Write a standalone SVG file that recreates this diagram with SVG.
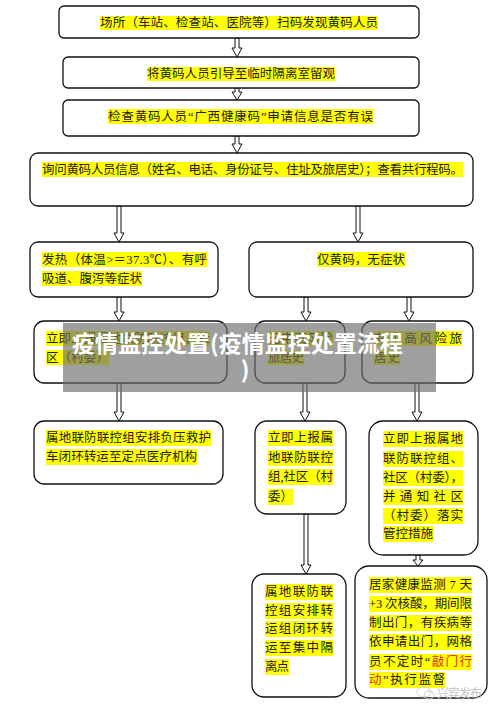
<svg xmlns="http://www.w3.org/2000/svg" width="500" height="715" viewBox="0 0 500 715">
<style>
.box{fill:#fff;stroke:#111;stroke-width:1.3}
.hl{fill:#ffff00}
.t{font-family:"Liberation Serif","Noto Sans CJK SC",serif;font-size:12.5px;fill:#222;dominant-baseline:central}
.red{fill:#e0301a}
.arr{fill:#fff;stroke:#111;stroke-width:1}
.ban{fill:#6e6e6e;opacity:0.66}
.bt{font-family:"Noto Sans CJK SC","Noto Sans",sans-serif;font-weight:bold;font-size:23px;fill:#fff;dominant-baseline:central}
.wm{font-family:"Noto Sans CJK SC",sans-serif;font-size:12px;fill:#c4c4c4;dominant-baseline:central}
</style>
<rect width="500" height="715" fill="#fff"/>

<g id="connectors">
<path class="arr" d="M235 38V48H232L237 57L242 48H239V38Z"/>
<path class="arr" d="M235 88V92H232L237 100L242 92H239V88Z"/>
<path class="arr" d="M235 136V144H232L237 153L242 144H239V136Z"/>
<path class="arr" d="M117 206V233H114L119 242L124 233H121V206Z"/>
<path class="arr" d="M356 206V233H353L358 242L363 233H360V206Z"/>
<path class="arr" d="M117 297V312H114L119 321L124 312H121V297Z"/>
<path class="arr" d="M304 297V312H301L306 321L311 312H308V297Z"/>
<path class="arr" d="M407 297V312H404L409 321L414 312H411V297Z"/>
<path class="arr" d="M117 383V412H114L119 421L124 412H121V383Z"/>
<path class="arr" d="M303 383V412H300L305 421L310 412H307V383Z"/>
<path class="arr" d="M415 383V412H412L417 421L422 412H419V383Z"/>
<path class="arr" d="M304 514V565H301L306 574L311 565H308V514Z"/>
<path class="arr" d="M416 555V560H413L418 566L423 560H420V555Z"/>
</g>

<g id="n1">
<rect class="box" x="59" y="6" width="360" height="32" rx="5"/>
<rect class="hl" x="100" y="16" width="278" height="14"/>
<text class="t" x="100" y="23" textLength="278" lengthAdjust="spacing">场所（车站、检查站、医院等）扫码发现黄码人员</text>
</g>

<g id="n2">
<rect class="box" x="63" y="57" width="356" height="31" rx="5"/>
<rect class="hl" x="147" y="67" width="188" height="14"/>
<text class="t" x="147" y="74" textLength="188" lengthAdjust="spacing">将黄码人员引导至临时隔离室留观</text>
</g>

<g id="n3">
<rect class="box" x="63" y="100" width="356" height="36" rx="5"/>
<rect class="hl" x="108" y="109" width="265" height="15"/>
<text class="t" x="108" y="116.5" textLength="265" lengthAdjust="spacing">检查黄码人员“广西健康码”申请信息是否有误</text>
</g>

<g id="n4">
<rect class="box" x="30" y="153" width="443" height="53" rx="8"/>
<rect class="hl" x="42" y="162" width="421" height="15"/>
<text class="t" x="42" y="169.5" textLength="421" lengthAdjust="spacing">询问黄码人员信息（姓名、电话、身份证号、住址及旅居史）；查看共行程码。</text>
</g>

<g id="n5l">
<rect class="box" x="30" y="242" width="188" height="55" rx="8"/>
<rect class="hl" x="42" y="252" width="165" height="15"/>
<rect class="hl" x="42" y="271" width="100" height="15"/>
<text class="t" x="42" y="259.5" textLength="165" lengthAdjust="spacing">发热（体温&gt;＝37.3℃）、有呼</text>
<text class="t" x="42" y="278.5" textLength="100" lengthAdjust="spacing">吸道、腹泻等症状</text>
</g>

<g id="n5r">
<rect class="box" x="249" y="242" width="224" height="55" rx="8"/>
<rect class="hl" x="317" y="252" width="88" height="15"/>
<text class="t" x="317" y="259.5" textLength="88" lengthAdjust="spacing">仅黄码，无症状</text>
</g>

<g id="n6l">
<rect class="box" x="34" y="321" width="193" height="62" rx="10"/>
<rect class="hl" x="46" y="331" width="164" height="15"/>
<rect class="hl" x="46" y="350" width="63" height="15"/>
<text class="t" x="46" y="338.5" textLength="164" lengthAdjust="spacing">立即上报属地联防联控组，社</text>
<text class="t" x="46" y="357.5" textLength="63" lengthAdjust="spacing">区（村委）</text>
</g>

<g id="n6m">
<rect class="box" x="255" y="321" width="90" height="62" rx="10"/>
<rect class="hl" x="268" y="331" width="65" height="15"/>
<rect class="hl" x="268" y="350" width="36" height="15"/>
<text class="t" x="268" y="338.5" textLength="65" lengthAdjust="spacing">无中高风险</text>
<text class="t" x="268" y="357.5" textLength="36" lengthAdjust="spacing">旅居史</text>
</g>

<g id="n6r">
<rect class="box" x="362" y="321" width="111" height="62" rx="10"/>
<rect class="hl" x="374" y="331" width="88" height="15"/>
<rect class="hl" x="374" y="350" width="26" height="15"/>
<text class="t" x="374" y="338.5" textLength="88" lengthAdjust="spacing">有中高风险旅</text>
<text class="t" x="374" y="357.5" textLength="26" lengthAdjust="spacing">居史</text>
</g>

<g id="n7l">
<rect class="box" x="34" y="421" width="189" height="63" rx="10"/>
<rect class="hl" x="46" y="430" width="165" height="16"/>
<rect class="hl" x="46" y="449" width="151" height="16"/>
<text class="t" x="46" y="438" textLength="165" lengthAdjust="spacing">属地联防联控组安排负压救护</text>
<text class="t" x="46" y="457" textLength="151" lengthAdjust="spacing">车闭环转运至定点医疗机构</text>
</g>

<g id="n7m">
<rect class="box" x="255" y="421" width="91" height="93" rx="12"/>
<rect class="hl" x="268" y="430" width="65" height="16"/>
<rect class="hl" x="268" y="450" width="65" height="16"/>
<rect class="hl" x="268" y="469" width="65" height="16"/>
<rect class="hl" x="268" y="489" width="25" height="16"/>
<text class="t" x="268" y="438" textLength="65" lengthAdjust="spacing">立即上报属</text>
<text class="t" x="268" y="458" textLength="65" lengthAdjust="spacing">地联防联控</text>
<text class="t" x="268" y="477" textLength="65" lengthAdjust="spacing">组,社区（村</text>
<text class="t" x="268" y="497" textLength="25" lengthAdjust="spacing">委）</text>
</g>

<g id="n7r">
<rect class="box" x="369" y="421" width="109" height="134" rx="14"/>
<rect class="hl" x="383" y="431" width="80" height="16"/>
<rect class="hl" x="383" y="451" width="80" height="16"/>
<rect class="hl" x="383" y="470" width="80" height="16"/>
<rect class="hl" x="383" y="489" width="80" height="16"/>
<rect class="hl" x="383" y="508" width="80" height="16"/>
<rect class="hl" x="383" y="526" width="50" height="16"/>
<text class="t" x="383" y="439" textLength="80" lengthAdjust="spacing">立即上报属地</text>
<text class="t" x="383" y="459" textLength="80" lengthAdjust="spacing">联防联控组、</text>
<text class="t" x="383" y="478" textLength="80" lengthAdjust="spacing">社区（村委），</text>
<text class="t" x="383" y="497" textLength="80" lengthAdjust="spacing">并通知社区</text>
<text class="t" x="383" y="516" textLength="80" lengthAdjust="spacing">（村委）落实</text>
<text class="t" x="383" y="534" textLength="50" lengthAdjust="spacing">管控措施</text>
</g>

<g id="n8m">
<rect class="box" x="252" y="574" width="94" height="123" rx="12"/>
<rect class="hl" x="265" y="584" width="68" height="16"/>
<rect class="hl" x="265" y="603" width="68" height="16"/>
<rect class="hl" x="265" y="621" width="68" height="16"/>
<rect class="hl" x="265" y="640" width="68" height="16"/>
<rect class="hl" x="265" y="659" width="24" height="16"/>
<text class="t" x="265" y="592" textLength="68" lengthAdjust="spacing">属地联防联</text>
<text class="t" x="265" y="611" textLength="68" lengthAdjust="spacing">控组安排转</text>
<text class="t" x="265" y="629" textLength="68" lengthAdjust="spacing">运组闭环转</text>
<text class="t" x="265" y="648" textLength="68" lengthAdjust="spacing">运至集中隔</text>
<text class="t" x="265" y="667" textLength="24" lengthAdjust="spacing">离点</text>
</g>

<g id="n8r">
<rect class="box" x="355" y="566" width="132" height="132" rx="14"/>
<rect class="hl" x="369" y="577" width="103" height="16"/>
<rect class="hl" x="369" y="596" width="103" height="16"/>
<rect class="hl" x="369" y="615" width="103" height="16"/>
<rect class="hl" x="369" y="634" width="103" height="16"/>
<rect class="hl" x="369" y="654" width="103" height="16"/>
<rect class="hl" x="369" y="672" width="76" height="16"/>
<text class="t" x="369" y="585" textLength="103" lengthAdjust="spacing">居家健康监测 7 天</text>
<text class="t" x="369" y="604" textLength="103" lengthAdjust="spacing">+3 次核酸，期间限</text>
<text class="t" x="369" y="623" textLength="103" lengthAdjust="spacing">制出门，有疾病等</text>
<text class="t" x="369" y="642" textLength="103" lengthAdjust="spacing">依申请出门，网格</text>
<text class="t" x="369" y="662" textLength="103" lengthAdjust="spacing">员不定时“<tspan class="red">敲门行</tspan></text>
<text class="t" x="369" y="680" textLength="76" lengthAdjust="spacing"><tspan class="red">动</tspan>”执行监督</text>
</g>

<g id="banner">
<rect class="ban" x="63" y="323" width="373" height="69"/>
<text class="bt" x="72" y="342">疫情监控处置(疫情监控处置流程</text>
<text class="bt" x="245" y="368" text-anchor="middle">)</text>
</g>

<g id="watermark">
<ellipse cx="424" cy="692" rx="7" ry="5" fill="none" stroke="#cfcfcf" stroke-width="1"/>
<ellipse cx="429" cy="695" rx="5" ry="4" fill="none" stroke="#cfcfcf" stroke-width="1"/>
<text class="wm" x="437" y="692" textLength="45" lengthAdjust="spacing">兴宾发布</text>
</g>
</svg>
